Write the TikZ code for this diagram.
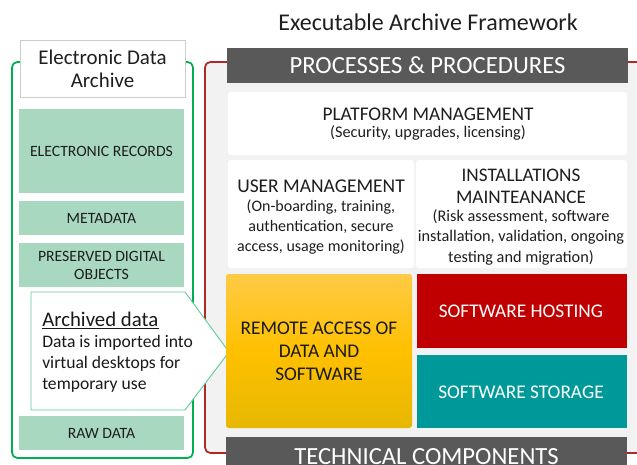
\documentclass[tikz,border=0pt]{standalone}
\usepackage{fontspec}
\setmainfont{Carlito}
\usetikzlibrary{fit}
\definecolor{gframe}{RGB}{0,176,80}
\definecolor{gfill}{RGB}{169,216,192}
\definecolor{gpent}{RGB}{95,205,150}
\definecolor{rframe}{RGB}{175,40,40}
\definecolor{lgray}{RGB}{242,242,242}
\definecolor{dbar}{RGB}{89,89,89}
\definecolor{ytop}{RGB}{255,202,70}
\definecolor{ymid}{RGB}{255,192,0}
\definecolor{ybot}{RGB}{230,184,0}
\definecolor{tealc}{RGB}{0,153,153}
\definecolor{dred}{RGB}{192,0,0}
\definecolor{tgray}{RGB}{30,30,30}
\tikzset{
  shp/.style={inner sep=0pt, outer sep=0pt},
  txt/.style={inner sep=0pt, align=center, text=tgray},
  greenbox/.style={shp, fill=gfill},
  gtxt/.style={txt, font=\fontsize{11.8}{13.5}\selectfont},
  whitebox/.style={shp, fill=white, rounded corners=2pt},
  barbox/.style={shp, fill=dbar},
  bartxt/.style={txt, text=white, font=\fontsize{18.5}{22}\selectfont},
  coltxt/.style={txt, text=white, font=\fontsize{14.5}{17}\selectfont},
}
\begin{document}
\begin{tikzpicture}[x=0.75pt,y=-0.75pt]
\useasboundingbox (0,0) rectangle (637,465);
\clip (0,0) rectangle (637,465);
% frames
\draw[gframe, line width=1.3pt, rounded corners=4pt] (12,62) rectangle (193,458);
\draw[rframe, line width=1.3pt, fill=lgray, rounded corners=4pt] (205,62) rectangle (660,453);
% left column
\node[shp, fill=white, draw=black!20, line width=0.6pt, fit={(20,40) (185,97)}] (eda) {};
\node[txt, font=\fontsize{15.7}{17.25}\selectfont] (edat) at (102.5,68.5) {Electronic Data\\Archive};
\node[greenbox, fit={(19,109) (184,193)}] (er) {};
\node[gtxt] (ert) at (er.center) {ELECTRONIC RECORDS};
\node[greenbox, fit={(19,201) (184,235)}] (md) {};
\node[gtxt] (mdt) at (md.center) {METADATA};
\node[greenbox, fit={(19,243) (184,287)}] (pdo) {};
\node[gtxt] (pdot) at (pdo.center) {PRESERVED DIGITAL\\OBJECTS};
\node[greenbox, fit={(19,416) (184,450)}] (raw) {};
\node[gtxt] (rawt) at (raw.center) {RAW DATA};
\draw[gpent, fill=white, line width=0.7pt] (31,292) -- (185,292) -- (229,352) -- (185,410) -- (31,410) -- cycle;
\node[txt, anchor=base west, text=black!90, font=\fontsize{15.6}{17}\selectfont] (archt) at (42,326) {Archived data};
\draw[black!90, line width=0.7pt] ([yshift=-1.6pt]archt.base west) -- ([yshift=-1.6pt]archt.base east);
\node[txt, anchor=west, align=left, text=black!90, font=\fontsize{13.2}{15.75}\selectfont] (archb) at (42,364) {Data is imported into\\virtual desktops for\\temporary use};
% right column
\node[txt, font=\fontsize{18}{20}\selectfont] (title) at (428,22) {Executable Archive Framework};
\node[barbox, fit={(227,48) (628,83)}] (pp) {};
\node[bartxt] (ppt) at (pp.center) {PROCESSES \& PROCEDURES};
\node[whitebox, fit={(228,92) (627,155)}] (plat) {};
\node[txt, font=\fontsize{14.5}{16}\selectfont] (plath) at (428,114) {PLATFORM MANAGEMENT};
\node[txt, font=\fontsize{12.2}{14}\selectfont] (plats) at (428,133) {(Security, upgrades, licensing)};
\node[whitebox, fit={(228,160) (414,268)}] (user) {};
\node[txt, font=\fontsize{14.6}{16}\selectfont] (userh) at (321,186) {USER MANAGEMENT};
\node[txt, font=\fontsize{12}{14.8}\selectfont] (users) at (321,227) {(On-boarding, training,\\authentication, secure\\access, usage monitoring)};
\node[whitebox, fit={(416,160) (627,268)}] (inst) {};
\node[txt, font=\fontsize{14.4}{16.5}\selectfont] (insth) at (521,186) {INSTALLATIONS\\MAINTEANANCE};
\node[txt, font=\fontsize{12.2}{15.4}\selectfont] (insts) at (521,237) {(Risk assessment, software\\installation, validation, ongoing\\testing and migration)};
\node[shp, rounded corners=2pt, top color=ytop, bottom color=ybot, middle color=ymid, fit={(226,274) (412,428)}] (remote) {};
\node[txt, text=black!90, font=\fontsize{14.5}{17.25}\selectfont] (remotet) at (319,351) {REMOTE ACCESS OF\\DATA AND\\SOFTWARE};
\node[shp, fill=dred, fit={(417,274) (627,348)}] (host) {};
\node[coltxt] (hostt) at (521,311) {SOFTWARE HOSTING};
\node[shp, fill=tealc, fit={(417,355) (627,428)}] (store) {};
\node[coltxt] (storet) at (521,392) {SOFTWARE STORAGE};
\node[barbox, fit={(226,437) (627,470)}] (tech) {};
\node[bartxt] (techt) at (426.5,457) {TECHNICAL COMPONENTS};
\end{tikzpicture}
\end{document}
